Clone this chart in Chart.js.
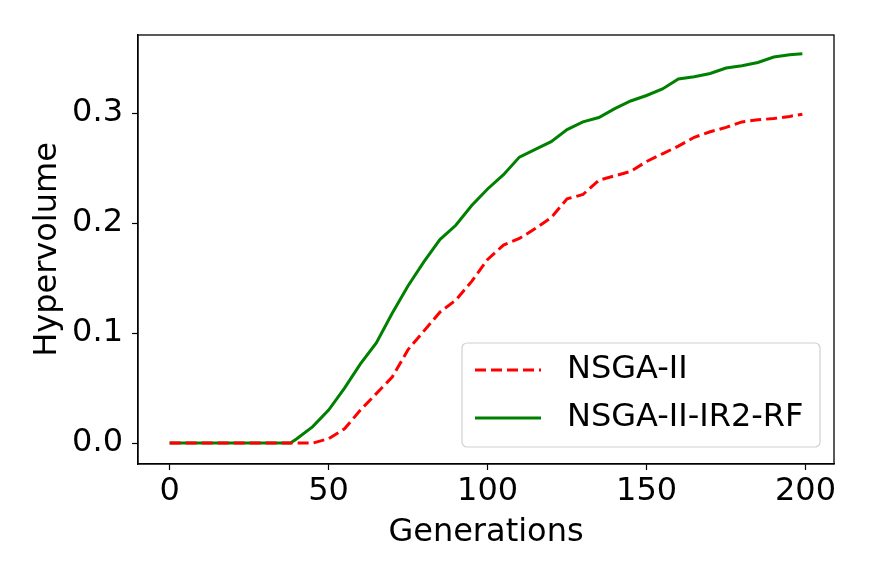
<!DOCTYPE html>
<html lang="en">
<head>
  <meta charset="UTF-8">
  <title>Hypervolume</title>
  <script src="https://cdn.jsdelivr.net/npm/chart.js"></script>
  <style>
    html, body {
      margin: 0;
      padding: 0;
      background: #fff;
    }
    #wrap {
      width: 872px;
      height: 581px;
    }
  </style>
</head>
<body>
  <div id="wrap"><canvas id="chart"></canvas></div>

  <script>
    // generations sampled every 5 (last run is 199)
    const generations = [0, 5, 10, 15, 20, 25, 30, 35, 38, 40, 45, 50, 55, 60, 65, 70, 75, 80, 85, 90, 95,
      100, 105, 110, 115, 120, 125, 130, 135, 140, 145, 150, 155, 160, 165, 170, 175, 180, 185, 190, 195, 199];

    const nsga2 = [0, 0, 0, 0, 0, 0, 0, 0, 0, 0, 0, 0.004, 0.013, 0.030, 0.045, 0.060, 0.085, 0.102, 0.119, 0.130, 0.147,
      0.167, 0.180, 0.186, 0.195, 0.205, 0.222, 0.226, 0.239, 0.243, 0.247, 0.256, 0.263, 0.270, 0.278, 0.283, 0.287,
      0.292, 0.294, 0.295, 0.297, 0.299];

    const nsga2ir2rf = [0, 0, 0, 0, 0, 0, 0, 0, 0, 0.004, 0.015, 0.030, 0.050, 0.072, 0.091, 0.118, 0.143, 0.165, 0.185, 0.198, 0.216,
      0.231, 0.244, 0.260, 0.267, 0.274, 0.285, 0.292, 0.296, 0.304, 0.311, 0.316, 0.322, 0.331, 0.333, 0.336, 0.341,
      0.343, 0.346, 0.351, 0.353, 0.354];

    const xTicks = [0, 50, 100, 150, 200];
    const yTicks = [0, 0.1, 0.2, 0.3];

    const font = "'DejaVu Sans', sans-serif";
    const fontSize = 32;

    const toPoints = (ys) => generations.map((g, i) => ({x: g, y: ys[i]}));

    // frame on all four sides + legend box inside the plot
    const framePlugin = {
      id: 'frame',
      afterDatasetsDraw(chart) {
        const ctx = chart.ctx;
        const a = chart.chartArea;
        ctx.save();
        ctx.strokeStyle = '#000';
        ctx.lineWidth = 1.3;
        ctx.strokeRect(a.left, a.top, a.right - a.left, a.bottom - a.top);

        // legend
        const bx = 462, by = 343, bw = 358, bh = 104, r = 5;
        ctx.beginPath();
        ctx.moveTo(bx + r, by);
        ctx.arcTo(bx + bw, by, bx + bw, by + bh, r);
        ctx.arcTo(bx + bw, by + bh, bx, by + bh, r);
        ctx.arcTo(bx, by + bh, bx, by, r);
        ctx.arcTo(bx, by, bx + bw, by, r);
        ctx.closePath();
        ctx.fillStyle = 'rgba(255,255,255,0.8)';
        ctx.fill();
        ctx.strokeStyle = '#d0d0d0';
        ctx.lineWidth = 1.2;
        ctx.stroke();

        const rows = [370, 418];
        chart.data.datasets.forEach((ds, i) => {
          ctx.beginPath();
          ctx.setLineDash(ds.borderDash || []);
          ctx.strokeStyle = ds.borderColor;
          ctx.lineWidth = ds.borderWidth;
          ctx.moveTo(475, rows[i]);
          ctx.lineTo(541, rows[i]);
          ctx.stroke();
          ctx.setLineDash([]);
          ctx.fillStyle = '#000';
          ctx.font = fontSize + 'px ' + font;
          ctx.textBaseline = 'middle';
          ctx.textAlign = 'left';
          ctx.fillText(ds.label, 567, rows[i]);
        });
        ctx.restore();
      }
    };

    new Chart(document.getElementById('chart'), {
      type: 'line',
      data: {
        datasets: [
          {
            label: 'NSGA-II',
            data: toPoints(nsga2),
            borderColor: '#ff0000',
            borderWidth: 3,
            borderDash: [11, 5],
            pointRadius: 0,
            tension: 0,
            fill: false
          },
          {
            label: 'NSGA-II-IR2-RF',
            data: toPoints(nsga2ir2rf),
            borderColor: '#008000',
            borderWidth: 3,
            pointRadius: 0,
            tension: 0,
            fill: false
          }
        ]
      },
      options: {
        responsive: true,
        maintainAspectRatio: false,
        animation: false,
        layout: {
          padding: {left: 0, top: 35, right: 38, bottom: 0}
        },
        plugins: {
          legend: {display: false},
          tooltip: {enabled: false}
        },
        scales: {
          x: {
            type: 'linear',
            min: -9.95,
            max: 208.95,
            afterBuildTicks: (axis) => { axis.ticks = xTicks.map(v => ({value: v})); },
            afterFit: (axis) => { axis.height = 117; },
            grid: {drawOnChartArea: false, drawTicks: true, tickLength: 6, tickWidth: 1.2, color: '#000'},
            border: {display: true, color: '#000', width: 1.3},
            ticks: {
              color: '#000',
              font: {family: font, size: fontSize},
              padding: 2,
              maxRotation: 0,
              callback: (v) => String(v)
            },
            title: {
              display: true,
              text: 'Generations',
              color: '#000',
              font: {family: font, size: fontSize},
              padding: {top: 0, bottom: 29}
            }
          },
          y: {
            type: 'linear',
            min: -0.019,
            max: 0.371,
            afterBuildTicks: (axis) => { axis.ticks = yTicks.map(v => ({value: v})); },
            afterFit: (axis) => { axis.width = 138; },
            grid: {drawOnChartArea: false, drawTicks: true, tickLength: 6, tickWidth: 1.2, color: '#000'},
            border: {display: true, color: '#000', width: 1.3},
            ticks: {
              color: '#000',
              font: {family: font, size: fontSize},
              padding: 9,
              callback: (v) => v.toFixed(1)
            },
            title: {
              display: true,
              text: 'Hypervolume',
              color: '#000',
              font: {family: font, size: fontSize},
              padding: {top: 28, bottom: 0}
            }
          }
        }
      },
      plugins: [framePlugin]
    });
  </script>
</body>
</html>
